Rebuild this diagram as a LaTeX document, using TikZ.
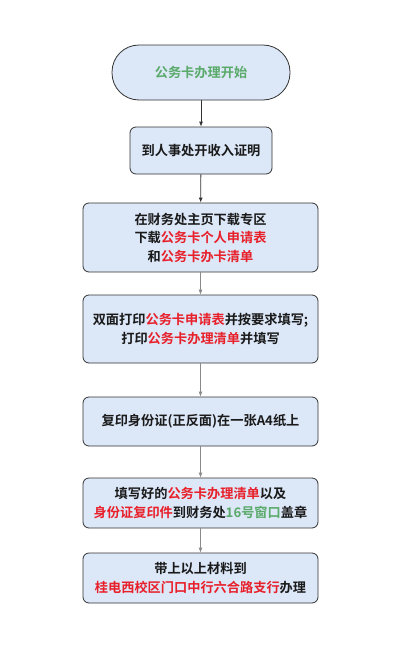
\documentclass[tikz,border=0pt]{standalone}
\usepackage{fontspec}
\usetikzlibrary{arrows.meta}
\newfontfamily\cjkb{Noto Sans CJK SC Bold}
\definecolor{boxfill}{HTML}{DCE7F8}
\definecolor{boxline}{HTML}{333333}
\definecolor{redt}{HTML}{E8202A}
\definecolor{greent}{HTML}{5AAA6A}
\definecolor{txt}{HTML}{1A1A1A}
\definecolor{arrg}{HTML}{8A8A8A}
\newcommand{\rt}[1]{\textcolor{redt}{#1}}
\newcommand{\gt}[1]{\textcolor{greent}{#1}}
\begin{document}
\begin{tikzpicture}[x=1pt,y=-1pt,
  every node/.style={font=\cjkb\fontsize{13.2}{18.5}\selectfont, text=txt, align=center},
  stepbox/.style={draw=boxline, line width=0.8pt, fill=boxfill, rounded corners=6pt, inner sep=0pt},
  arr/.style={-{Latex[length=5pt,width=4pt]}, line width=0.8pt, draw=#1},
  arr/.default=boxline]
\useasboundingbox[fill=white] (0,0) rectangle (400,648);
\node[stepbox, minimum width=178pt, minimum height=55pt, rounded corners=27pt] (s) at (201,72.5) {\gt{公务卡办理开始}};
\node[stepbox, minimum width=142pt, minimum height=47pt] (b1) at (201,150.5) {到人事处开收入证明};
\node[stepbox, minimum width=235pt, minimum height=69pt] (b2) at (200.5,237.5) {在财务处主页下载专区\\下载\rt{公务卡个人申请表}\\和\rt{公务卡办卡清单}};
\node[stepbox, minimum width=235pt, minimum height=68pt] (b3) at (200.5,329) {双面打印\rt{公务卡申请表}并按要求填写;\\打印\rt{公务卡办理清单}并填写};
\node[stepbox, minimum width=235pt, minimum height=49pt] (b4) at (200.5,421.5) {复印身份证(正反面)在一张A4纸上};
\node[stepbox, minimum width=235pt, minimum height=50pt] (b5) at (200.5,503) {填写好的\rt{公务卡办理清单}以及\\\rt{身份证复印件}到财务处\gt{16号窗口}盖章};
\node[stepbox, minimum width=235pt, minimum height=50pt] (b6) at (200.5,578) {带上以上材料到\\\rt{桂电西校区门口中行六合路支行}办理};
\draw[arr] (s) -- (b1);
\draw[arr] (b1) -- (b2);
\draw[arr=arrg] (b2) -- (b3);
\draw[arr=arrg] (b3) -- (b4);
\draw[arr=arrg] (b4) -- (b5);
\draw[arr=arrg] (b5) -- (b6);
\end{tikzpicture}
\end{document}
